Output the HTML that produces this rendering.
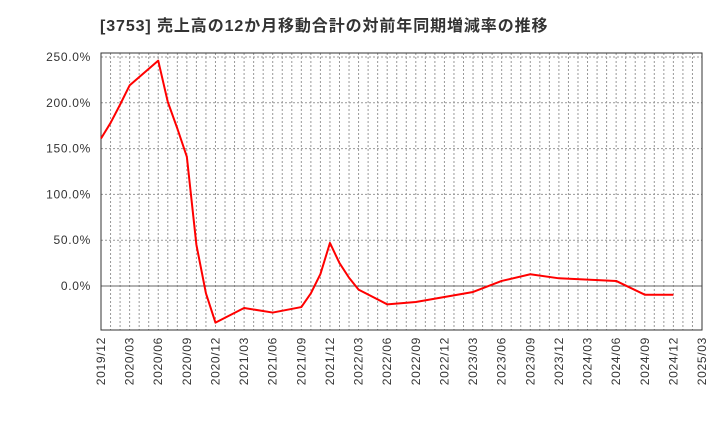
<!DOCTYPE html>
<html><head><meta charset="utf-8"><style>
body{margin:0;background:#fff;font-family:"Liberation Sans","Noto Sans CJK JP",sans-serif}
</style></head><body>
<svg id="c" width="720" height="440" xmlns="http://www.w3.org/2000/svg">
<text x="100" y="31" font-size="16" letter-spacing="0.9" font-weight="bold" fill="#333" font-family="Liberation Sans, Noto Sans CJK JP, sans-serif">[3753]  売上高の12か月移動合計の対前年同期増減率の推移</text>
</svg>
<script>
const months=[0,1,2,3,6,7,8,9,10,11,12,15,18,21,22,23,24,25,26,27,30,33,36,39,42,45,48,54,57,60];
const values=[161,178,198,219,246,201,172,141,45,-8,-40,-24,-29,-23,-8,13,47,25,9,-4,-20,-17.5,-12,-6.5,5.5,12.8,8.4,5.5,-9.5,-9.5];
const yTicks=[0,50,100,150,200,250];
const xLabels=["2019/12","2020/03","2020/06","2020/09","2020/12","2021/03","2021/06","2021/09","2021/12","2022/03","2022/06","2022/09","2022/12","2023/03","2023/06","2023/09","2023/12","2024/03","2024/06","2024/09","2024/12","2025/03"];
const L=101,R=702,T=53,B=330,NM=63;
const X=m=>L+(R-L)*m/NM;
const Y=v=>286-v*0.916;
const svg=document.getElementById('c');
const NS='http://www.w3.org/2000/svg';
function mk(t,a){const e=document.createElementNS(NS,t);for(const k in a)e.setAttribute(k,a[k]);svg.appendChild(e);return e;}
for(let m=1;m<NM;m++){
 const g=mk('line',{x1:X(m),x2:X(m),y1:T,y2:B,stroke:'#999','stroke-dasharray':'2,2','stroke-width':1});
 
 
}
yTicks.forEach(v=>{
 const g=mk('line',{x1:L,x2:R,y1:Y(v),y2:Y(v),stroke:v===0?'#666':'#999','stroke-dasharray':v===0?'':'2,2','stroke-width':1});
 
 
 const t=mk('text',{x:91,y:Y(v)+4,'text-anchor':'end','font-size':12,'letter-spacing':0.7,fill:'#333'});
 t.textContent=v.toFixed(1)+'%';
 
 
});
xLabels.forEach((s,i)=>{
 const x=X(i*3);
 const t=mk('text',{x:0,y:0,'text-anchor':'end','font-size':12,'letter-spacing':0.7,fill:'#333',transform:`translate(${x+4},337) rotate(-90)`});
 t.textContent=s;
 
 
});
const f=mk('rect',{x:L,y:T,width:R-L,height:B-T,fill:'none',stroke:'#333','stroke-width':1});


const p=mk('polyline',{points:months.map((m,i)=>X(m)+','+Y(values[i])).join(' '),fill:'none',stroke:'#f00','stroke-width':2,'stroke-linejoin':'round'});


</script>
</body></html>
